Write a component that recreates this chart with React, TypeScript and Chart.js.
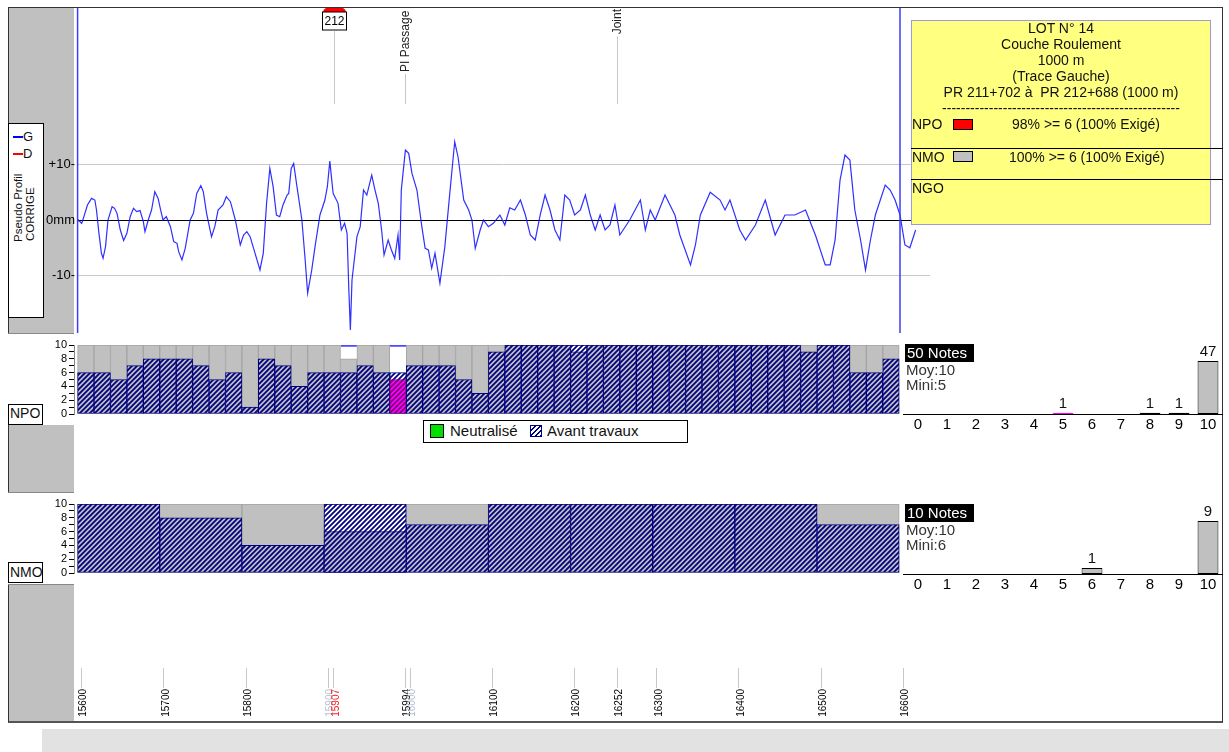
import React, { useEffect, useRef } from 'react';
import { Chart, registerables } from 'chart.js';

Chart.register(...registerables);

const FONT = "'Liberation Sans', Arial, Helvetica, sans-serif";
Chart.defaults.font.family = FONT;

// ---------- Pseudo profil (m, mm) ----------
const profilM = [15594, 15596, 15600, 15602, 15607, 15612, 15616, 15618, 15621, 15624, 15626, 15629, 15632, 15637, 15640, 15643, 15647, 15651, 15655, 15659, 15663, 15667, 15671, 15675, 15677, 15681, 15685, 15689, 15693, 15697, 15699, 15703, 15708, 15712, 15716, 15718, 15722, 15726, 15732, 15736, 15740, 15745, 15748, 15752, 15758, 15762, 15766, 15772, 15776, 15781, 15787, 15793, 15797, 15801, 15805, 15811, 15817, 15821, 15825, 15829, 15833, 15837, 15841, 15845, 15850, 15852, 15855, 15858, 15862, 15868, 15872, 15875, 15880, 15884, 15890, 15896, 15899, 15902, 15906, 15912, 15916, 15920, 15923, 15925, 15927, 15929, 15935, 15939, 15943, 15947, 15953, 15957, 15961, 15965, 15968, 15973, 15977, 15981, 15985, 15987, 15989, 15994, 15998, 16002, 16008, 16014, 16018, 16022, 16026, 16030, 16036, 16042, 16048, 16054, 16058, 16065, 16071, 16075, 16079, 16085, 16089, 16095, 16101, 16109, 16115, 16121, 16127, 16134, 16140, 16146, 16152, 16158, 16164, 16170, 16176, 16182, 16188, 16194, 16200, 16207, 16213, 16219, 16225, 16231, 16237, 16243, 16249, 16255, 16267, 16280, 16286, 16292, 16298, 16310, 16322, 16328, 16341, 16347, 16353, 16365, 16377, 16383, 16389, 16401, 16408, 16420, 16432, 16444, 16456, 16468, 16481, 16493, 16505, 16511, 16517, 16523, 16529, 16535, 16541, 16548, 16554, 16560, 16566, 16578, 16584, 16590, 16596, 16602, 16608, 16615];
const profilMm = [-0.6, 0.0, -0.6, 0.3, 2.7, 3.9, 3.6, 1.8, -2.4, -6.0, -6.9, -4.8, 0.0, 2.4, 2.1, 1.2, -1.8, -3.7, -2.4, 0.6, 2.1, 1.5, 1.7, -0.3, -2.1, 0.0, 1.8, 5.1, 3.9, 1.2, 0.0, 0.6, -1.2, -3.9, -4.2, -5.7, -7.2, -5.1, 0.0, 1.2, 4.8, 6.2, 5.1, 1.2, -3.0, -1.2, 1.8, 2.7, 4.2, 3.3, 0.0, -4.5, -2.7, -2.1, -3.0, -6.0, -9.0, -6.0, 3.0, 9.3, 6.0, 0.9, 0.6, 2.7, 4.5, 4.8, 9.3, 10.2, 6.0, 0.0, -7.2, -13.2, -9.0, -4.8, 0.9, 3.6, 6.0, 10.6, 4.8, 3.0, -1.8, -0.6, -2.4, -12.0, -19.8, -10.8, -3.0, -1.2, 5.4, 4.5, 8.1, 5.4, 3.0, -1.8, -6.3, -3.6, -5.4, -6.9, -2.7, -7.2, 5.4, 12.6, 12.0, 8.4, 5.4, -1.2, -5.1, -5.4, -8.7, -6.0, -11.4, -4.8, 4.8, 14.1, 11.4, 3.6, 1.8, 0.0, -5.1, -1.8, 0.0, -1.2, -0.6, 0.9, -0.9, 2.2, 1.8, 3.6, 0.9, -2.7, -3.6, 0.9, 4.5, 1.8, -1.8, -3.6, 4.5, 3.6, 0.9, 1.8, 4.5, 0.9, -1.8, 0.9, -1.8, -0.9, 2.7, -2.7, 0.0, 3.6, -1.8, 1.8, 0.0, 4.5, 0.9, -2.7, -8.1, -4.5, 0.9, 5.0, 3.6, 1.8, 3.6, -1.8, -3.6, -0.9, 3.6, -2.7, 0.9, 0.9, 1.8, -2.7, -8.1, -8.1, -3.6, 7.2, 11.7, 10.8, 1.8, -3.6, -9.0, -3.6, 0.9, 6.3, 5.4, 3.6, 0.9, -4.5, -5.0, -1.8];

// ---------- Repères ----------
const repereM = [15907, 15994, 16252];
const repereTexte = ['212', 'PI Passage inférieur', 'Joint'];
const repereType = ['PR', 'texte', 'texte'];
const borneM = [15595, 16596];

// ---------- NPO (pas de 20 m) ----------
const NPO_DEBUT = 15595;
const NPO_PAS = 20;
const npoAvant = [6, 6, 5, 7, 8, 8, 8, 7, 5, 6, 1, 8, 7, 4, 6, 6, 6, 7, 6, 6, 7, 7, 7, 5, 3, 9, 10, 10, 10, 10, 10, 10, 10, 10, 10, 10, 10, 10, 10, 10, 10, 10, 10, 10, 9, 10, 10, 6, 6, 8];
const npoNote = [10, 10, 10, 10, 10, 10, 10, 10, 10, 10, 10, 10, 10, 10, 10, 10, 8, 10, 10, 5, 10, 10, 10, 10, 10, 10, 10, 10, 10, 10, 9, 10, 10, 10, 10, 10, 10, 10, 10, 10, 10, 10, 10, 10, 10, 10, 10, 10, 10, 10];

// ---------- NMO (pas de 100 m) ----------
const NMO_DEBUT = 15595;
const NMO_PAS = 100;
const nmoAvant = [10, 8, 4, 10, 7, 10, 10, 10, 10, 7];
const nmoNote = [10, 10, 10, 6, 10, 10, 10, 10, 10, 10];

// ---------- Histogrammes ----------
const histLabels = ['0', '1', '2', '3', '4', '5', '6', '7', '8', '9', '10'];
const npoHist = [0, 0, 0, 0, 0, 1, 0, 0, 1, 1, 47];
const nmoHist = [0, 0, 0, 0, 0, 0, 1, 0, 0, 0, 9];

// ---------- Axe des abscisses ----------
const axeM = [15600, 15700, 15800, 15900, 15907, 15994, 16000, 16100, 16200, 16252, 16300, 16400, 16500, 16600];
const axeRouge = [15907];
const axeMasque = [15900, 16000];

// page x <-> metres
const X_PX0 = 81.7;
const X_M0 = 15600;
const X_ECH = 0.8216;
const pxToM = (px: number) => X_M0 + (px - X_PX0) / X_ECH;

function makeHatch(bg: string, fg: string) {
  const c = document.createElement('canvas');
  c.width = 5;
  c.height = 5;
  const g = c.getContext('2d') as CanvasRenderingContext2D;
  g.fillStyle = bg;
  g.fillRect(0, 0, 5, 5);
  g.strokeStyle = fg;
  g.lineWidth = 1.8;
  g.beginPath();
  g.moveTo(-1, 6);
  g.lineTo(6, -1);
  g.moveTo(-1, 1);
  g.lineTo(1, -1);
  g.moveTo(4, 6);
  g.lineTo(6, 4);
  g.stroke();
  return g.createPattern(c, 'repeat');
}

const repPlugin = {
  id: 'reperes',
  afterDatasetsDraw(chart: any) {
    const { ctx, chartArea } = chart;
    const x = chart.scales.x;
    ctx.save();
    ctx.beginPath();
    ctx.rect(chartArea.left - 2, chartArea.top, chartArea.right - chartArea.left + 4, chartArea.bottom - chartArea.top);
    ctx.clip();
    ctx.strokeStyle = '#3c3cff';
    ctx.lineWidth = 1.5;
    borneM.forEach((m) => {
      const px = x.getPixelForValue(m);
      ctx.beginPath();
      ctx.moveTo(px, chartArea.top);
      ctx.lineTo(px, chartArea.bottom);
      ctx.stroke();
    });
    const top = chartArea.top;
    repereM.forEach((m, i) => {
      const px = Math.round(x.getPixelForValue(m)) + 0.5;
      ctx.font = `12px ${FONT}`;
      let lineTop;
      if (repereType[i] === 'PR') {
        ctx.fillStyle = '#ff0000';
        ctx.beginPath();
        ctx.ellipse(px, top + 4, 11.5, 6, 0, Math.PI, 2 * Math.PI);
        ctx.fill();
        ctx.fillStyle = '#ffffff';
        ctx.fillRect(px - 12, top + 4, 24, 18);
        ctx.strokeStyle = '#000';
        ctx.lineWidth = 1;
        ctx.strokeRect(px - 12, top + 4, 24, 18);
        ctx.fillStyle = '#000';
        ctx.textAlign = 'center';
        ctx.textBaseline = 'middle';
        ctx.fillText(repereTexte[i], px, top + 13.5);
        lineTop = top + 23;
      } else {
        const w = ctx.measureText(repereTexte[i]).width;
        const bas = top + Math.min(w + 1, 64);
        ctx.save();
        ctx.translate(px, bas);
        ctx.rotate(-Math.PI / 2);
        ctx.fillStyle = '#222';
        ctx.textAlign = 'left';
        ctx.textBaseline = 'middle';
        ctx.fillText(repereTexte[i], 0, 0);
        ctx.restore();
        lineTop = bas + 2;
      }
      ctx.strokeStyle = '#c8c8c8';
      ctx.lineWidth = 1;
      ctx.beginPath();
      ctx.moveTo(px, lineTop);
      ctx.lineTo(px, top + 96);
      ctx.stroke();
    });
    ctx.restore();
  },
};

const valeurPlugin = {
  id: 'valeurs',
  afterDatasetsDraw(chart: any) {
    const { ctx } = chart;
    const meta = chart.getDatasetMeta(0);
    const data = chart.data.datasets[0].data;
    ctx.save();
    ctx.font = `15px ${FONT}`;
    ctx.fillStyle = '#111';
    ctx.textAlign = 'center';
    ctx.textBaseline = 'bottom';
    meta.data.forEach((el: any, i: number) => {
      const v = data[i];
      if (v) ctx.fillText(String(v), el.x, el.y - 2);
    });
    ctx.restore();
  },
};

function barDatasets(xs: number[], avant: number[], note: number[], hG: any, hW: any, hM: any) {
  const pts = (arr: (number | null)[]) => arr.map((v, i) => ({ x: xs[i], y: v }));
  return [
    {
      data: pts(avant.map((a, i) => Math.min(a, note[i]))),
      backgroundColor: note.map((n) => (n < 6 ? hM : hG)),
      borderColor: note.map((n) => (n < 6 ? '#800080' : '#000080')),
      borderWidth: 1,
      borderSkipped: false,
      order: 1,
    },
    {
      data: pts(avant.map((a, i) => (a > note[i] ? a : null))),
      backgroundColor: hW,
      borderColor: '#000080',
      borderWidth: 1,
      borderSkipped: false,
      order: 2,
    },
    {
      data: pts(note),
      backgroundColor: '#c0c0c0',
      borderColor: '#a4a4a4',
      borderWidth: 1,
      borderSkipped: false,
      order: 3,
    },
    {
      data: pts(note.map((n) => (n < 10 ? 10 : null))),
      backgroundColor: '#ffffff',
      borderColor: '#4a4aff',
      borderWidth: { top: 2, left: 0, right: 0, bottom: 0 },
      borderSkipped: false,
      order: 4,
    },
  ];
}

function barOptions(padTop: number, padBottom: number) {
  return {
    animation: false,
    responsive: false,
    devicePixelRatio: 1,
    events: [],
    layout: { padding: { top: padTop, bottom: padBottom, left: 0, right: 0 } },
    datasets: { bar: { grouped: false, barPercentage: 1, categoryPercentage: 1 } },
    plugins: { legend: { display: false }, tooltip: { enabled: false } },
    scales: {
      x: {
        type: 'linear',
        display: false,
        offset: false,
        grid: { offset: false },
        min: pxToM(74),
        max: pxToM(900),
        ticks: { stepSize: 1000 },
      },
      y: {
        min: 0,
        max: 10,
        afterFit: (s: any) => {
          s.width = 66;
          s.paddingTop = 0;
          s.paddingBottom = 0;
        },
        ticks: {
          stepSize: 1,
          autoSkip: false,
          font: { size: 11 },
          color: '#000',
          padding: 2,
          callback: (v: any) => (v % 2 === 0 ? String(v) : ''),
        },
        grid: { drawOnChartArea: false, tickLength: 5, color: '#000' },
        border: { display: true, color: '#888' },
      },
    },
  };
}

function histOptions(counts: number[]) {
  return {
    animation: false,
    responsive: false,
    devicePixelRatio: 1,
    events: [],
    layout: { padding: { top: 5, bottom: 0, left: 3.5, right: 0.5 } },
    plugins: { legend: { display: false }, tooltip: { enabled: false } },
    scales: {
      x: {
        grid: { display: false, drawTicks: false },
        border: { display: true, color: '#000', width: 1 },
        ticks: { font: { size: 15 }, color: '#000', padding: 2 },
        afterFit: (s: any) => {
          s.height = 20;
        },
      },
      y: { display: false, min: 0, max: Math.max(...counts) * 1.3 },
    },
  };
}

export default function App() {
  const refProfil = useRef<HTMLCanvasElement>(null);
  const refNpo = useRef<HTMLCanvasElement>(null);
  const refNpoH = useRef<HTMLCanvasElement>(null);
  const refNmo = useRef<HTMLCanvasElement>(null);
  const refNmoH = useRef<HTMLCanvasElement>(null);
  const refAxe = useRef<HTMLCanvasElement>(null);

  useEffect(() => {
    const charts: Chart[] = [];
    const hG = makeHatch('#c0c0c0', '#000080');
    const hW = makeHatch('#ffffff', '#000080');
    const hM = makeHatch('#ff00ff', '#7a007a');

    charts.push(
      new Chart(refProfil.current as HTMLCanvasElement, {
        type: 'line',
        data: {
          datasets: [
            {
              data: profilM.map((m, i) => ({ x: m, y: profilMm[i] })),
              borderColor: 'rgba(10,10,255,0.85)',
              borderWidth: 1.2,
              pointRadius: 0,
              tension: 0,
              fill: false,
            },
          ],
        },
        options: {
          animation: false,
          responsive: false,
          devicePixelRatio: 1,
          events: [],
          layout: { padding: 0 },
          plugins: { legend: { display: false }, tooltip: { enabled: false } },
          scales: {
            x: { type: 'linear', display: false, min: pxToM(77), max: pxToM(930) },
            y: {
              min: -20.36,
              max: 38.2,
              afterFit: (s: any) => {
                s.width = 69;
                s.paddingTop = 0;
                s.paddingBottom = 0;
              },
              afterBuildTicks: (s: any) => {
                s.ticks = [{ value: -10 }, { value: 0 }, { value: 10 }];
              },
              ticks: {
                font: { size: 13 },
                color: '#000',
                padding: 2,
                callback: (v: any) => (v === 10 ? '+10-' : v === 0 ? '0mm' : '-10-'),
              },
              grid: {
                drawTicks: false,
                color: (c: any) => (c.tick && c.tick.value === 0 ? '#000000' : '#c8c8c8'),
                lineWidth: 1,
              },
              border: { display: false },
            },
          },
        } as any,
        plugins: [repPlugin],
      })
    );

    const npoX = npoAvant.map((_, i) => NPO_DEBUT + NPO_PAS * (i + 0.5));
    charts.push(
      new Chart(refNpo.current as HTMLCanvasElement, {
        type: 'bar',
        data: { datasets: barDatasets(npoX, npoAvant, npoNote, hG, hW, hM) as any },
        options: barOptions(10, 11) as any,
      })
    );

    const nmoX = nmoAvant.map((_, i) => NMO_DEBUT + NMO_PAS * (i + 0.5));
    charts.push(
      new Chart(refNmo.current as HTMLCanvasElement, {
        type: 'bar',
        data: { datasets: barDatasets(nmoX, nmoAvant, nmoNote, hG, hW, hM) as any },
        options: barOptions(11, 10) as any,
      })
    );

    const histDs = (counts: number[], notes: number[]) => ({
      data: counts.map((c) => (c ? c : null)),
      backgroundColor: '#c0c0c0',
      borderColor: counts.map((c, i) => (i < 6 && notes.includes(i) ? '#ff00ff' : '#000')),
      borderWidth: 1,
      borderSkipped: false,
      barPercentage: 0.72,
      categoryPercentage: 1,
    });

    charts.push(
      new Chart(refNpoH.current as HTMLCanvasElement, {
        type: 'bar',
        data: { labels: histLabels, datasets: [histDs(npoHist, npoNote) as any] },
        options: histOptions(npoHist) as any,
        plugins: [valeurPlugin],
      })
    );
    charts.push(
      new Chart(refNmoH.current as HTMLCanvasElement, {
        type: 'bar',
        data: { labels: histLabels, datasets: [histDs(nmoHist, [10]) as any] },
        options: histOptions(nmoHist) as any,
        plugins: [valeurPlugin],
      })
    );

    charts.push(
      new Chart(refAxe.current as HTMLCanvasElement, {
        type: 'scatter',
        data: { datasets: [] },
        options: {
          animation: false,
          responsive: false,
          devicePixelRatio: 1,
          events: [],
          layout: { padding: { left: 69, right: 0, top: 0, bottom: 0 } },
          plugins: { legend: { display: false }, tooltip: { enabled: false } },
          scales: {
            x: {
              type: 'linear',
              position: 'bottom',
              min: pxToM(77),
              max: pxToM(930),
              afterBuildTicks: (s: any) => {
                s.ticks = axeM.map((v) => ({ value: v }));
              },
              afterFit: (s: any) => {
                s.height = 54;
              },
              ticks: {
                autoSkip: false,
                minRotation: 90,
                maxRotation: 90,
                font: { size: 10 },
                padding: 1,
                labelOffset: 2,
                color: (c: any) =>
                  axeRouge.includes(c.tick.value) ? '#ff2020' : axeMasque.includes(c.tick.value) ? '#b4c0d4' : '#000',
                callback: (v: any) => String(v),
              },
              grid: { drawOnChartArea: false, tickLength: 20, color: '#c8c8c8' },
              border: { display: false },
            },
            y: { display: false },
          },
        } as any,
      })
    );

    return () => charts.forEach((c) => c.destroy());
  }, []);

  const abs = (l: number, t: number, w: number, h: number, extra: any = {}) => ({
    position: 'absolute' as const,
    left: l,
    top: t,
    width: w,
    height: h,
    boxSizing: 'border-box' as const,
    ...extra,
  });
  const txt = (l: number, t: number, size: number, extra: any = {}) => ({
    position: 'absolute' as const,
    left: l,
    top: t,
    fontSize: size,
    lineHeight: `${Math.round(size * 1.15)}px`,
    whiteSpace: 'nowrap' as const,
    color: '#111',
    ...extra,
  });
  const hatchCss = 'repeating-linear-gradient(-45deg, #000080 0px, #000080 1.4px, #ffffff 1.4px, #ffffff 3.4px)';

  return (
    <div style={{ position: 'absolute', left: 0, top: 0, width: 1229, height: 752, background: '#fff', overflow: 'hidden', fontFamily: FONT }}>
      {/* bande grise du bas */}
      <div style={abs(42, 729, 1187, 23, { background: '#e2e2e2' })} />
      {/* panneau gauche */}
      <div style={abs(9, 8, 65, 713, { background: '#c0c0c0' })} />
      {/* cadre */}
      <div style={abs(8, 7, 1215, 716, { borderTop: '1px solid #333', borderLeft: '1px solid #333', borderRight: '1px solid #333', borderBottom: '2px solid #555' })} />

      {/* légende profil */}
      <div style={abs(8, 123, 36, 195, { background: '#fff', border: '1px solid #000' })} />
      <div style={abs(13, 136, 10, 2, { background: '#0000ff' })} />
      <div style={txt(23, 129, 13)}>G</div>
      <div style={abs(13, 153, 10, 2, { background: '#ff0000' })} />
      <div style={txt(23, 146, 13)}>D</div>
      <div style={txt(12, 242, 11.5, { transform: 'rotate(-90deg)', transformOrigin: '0 0' })}>Pseudo Profil</div>
      <div style={txt(24, 241, 11.5, { transform: 'rotate(-90deg)', transformOrigin: '0 0' })}>CORRIGE</div>

      {/* panneaux NPO / NMO */}
      <div style={abs(8, 333, 66, 92, { background: '#fff', borderTop: '1px solid #888' })} />
      <div style={abs(8, 404, 35, 21, { background: '#fff', border: '1px solid #000' })} />
      <div style={txt(10, 405, 14)}>NPO</div>
      <div style={abs(8, 492, 66, 93, { background: '#fff', borderTop: '1px solid #888', borderBottom: '1px solid #888' })} />
      <div style={abs(8, 562, 35, 21, { background: '#fff', border: '1px solid #000' })} />
      <div style={txt(10, 564, 14)}>NMO</div>

      {/* canvases */}
      <canvas ref={refProfil} width={922} height={325} style={{ position: 'absolute', left: 8, top: 8 }} />
      <canvas ref={refNpo} width={892} height={90} style={{ position: 'absolute', left: 8, top: 335 }} />
      <canvas ref={refNmo} width={892} height={90} style={{ position: 'absolute', left: 8, top: 493 }} />
      <canvas ref={refNpoH} width={323} height={94} style={{ position: 'absolute', left: 900, top: 340 }} />
      <canvas ref={refNmoH} width={323} height={94} style={{ position: 'absolute', left: 900, top: 500 }} />
      <canvas ref={refAxe} width={922} height={62} style={{ position: 'absolute', left: 8, top: 660 }} />

      {/* cartouche jaune */}
      <div style={abs(911, 20, 300, 205, { background: '#ffff80', border: '1px solid #9a9ad8' })} />
      <div style={{ position: 'absolute', left: 911, top: 20, width: 300, textAlign: 'center', fontSize: 14, lineHeight: '16px', color: '#111' }}>
        <div>LOT N° 14</div>
        <div>Couche Roulement</div>
        <div>1000 m</div>
        <div>(Trace Gauche)</div>
        <div style={{ whiteSpace: 'pre' }}>PR 211+702 à  PR 212+688 (1000 m)</div>
        <div>---------------------------------------------------</div>
      </div>
      <div style={txt(912, 116, 14)}>NPO</div>
      <div style={abs(953, 119, 20, 11, { background: '#ff0000', border: '1px solid #000' })} />
      <div style={txt(1012, 116, 14)}>98% &gt;= 6 (100% Exigé)</div>
      <div style={abs(911, 148, 312, 1, { background: '#000' })} />
      <div style={txt(912, 149, 14)}>NMO</div>
      <div style={abs(953, 151, 20, 11, { background: '#c0c0c0', border: '1px solid #000' })} />
      <div style={txt(1009, 149, 14)}>100% &gt;= 6 (100% Exigé)</div>
      <div style={abs(911, 179, 312, 1, { background: '#000' })} />
      <div style={txt(912, 180, 14)}>NGO</div>

      {/* légende NPO */}
      <div style={abs(423, 420, 265, 23, { background: '#fff', border: '1px solid #000' })} />
      <div style={abs(430, 424, 14, 14, { background: '#00e000', border: '1px solid #000' })} />
      <div style={txt(450, 422, 15)}>Neutralisé</div>
      <div style={abs(530, 425, 12, 12, { background: hatchCss, border: '1px solid #000080' })} />
      <div style={txt(547, 422, 15)}>Avant travaux</div>

      {/* stats NPO */}
      <div style={abs(905, 344, 69, 18, { background: '#000' })} />
      <div style={txt(907, 344, 15, { color: '#fff' })}>50 Notes</div>
      <div style={txt(906, 361, 15, { color: '#333' })}>Moy:10</div>
      <div style={txt(906, 376, 15, { color: '#333' })}>Mini:5</div>

      {/* stats NMO */}
      <div style={abs(905, 504, 69, 18, { background: '#000' })} />
      <div style={txt(907, 504, 15, { color: '#fff' })}>10 Notes</div>
      <div style={txt(906, 521, 15, { color: '#333' })}>Moy:10</div>
      <div style={txt(906, 536, 15, { color: '#333' })}>Mini:6</div>
    </div>
  );
}
